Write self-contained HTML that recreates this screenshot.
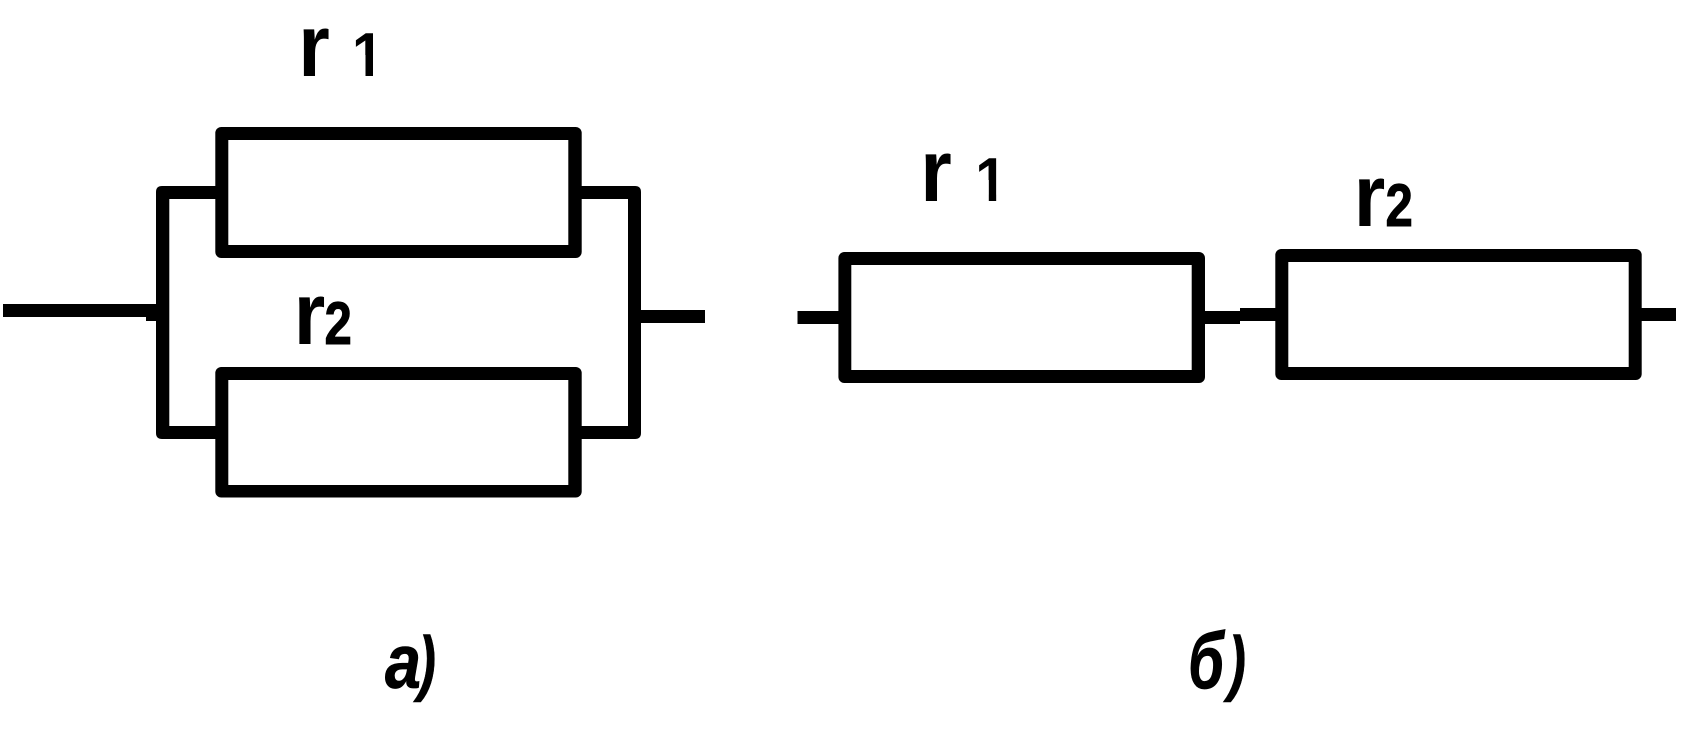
<!DOCTYPE html>
<html><head><meta charset="utf-8"><style>html,body{margin:0;padding:0;background:#fff}svg{display:block}text{font-family:"Liberation Sans",sans-serif;font-weight:bold;fill:#000}</style></head><body>
<svg width="1696" height="733" viewBox="0 0 1696 733" xmlns="http://www.w3.org/2000/svg">
<defs><clipPath id="one"><path d="M340 20H373V80H365.5V55H340Z"/></clipPath></defs>
<rect width="1696" height="733" fill="#fff"/>
<!-- a) resistors -->
<rect x="215.3" y="127" width="366.4" height="131" rx="6" fill="#000"/><rect x="228.3" y="140" width="340" height="105" fill="#fff"/>
<rect x="215.3" y="367" width="366.4" height="130.5" rx="6" fill="#000"/><rect x="228.3" y="380" width="340" height="105" fill="#fff"/>
<!-- a) wires -->
<path d="M217 186H162Q156 186 156 192V433Q156 439 162 439H217V426H169.3V199H217Z" fill="#000"/>
<path d="M580 186H635Q641 186 641 192V433Q641 439 635 439H580V426H628V199H580Z" fill="#000"/>
<path d="M3 304H157V321H146V317H3Z" fill="#000"/>
<rect x="640" y="310" width="65" height="13" fill="#000"/>
<!-- b) resistors -->
<rect x="838.4" y="252" width="366.6" height="131" rx="6" fill="#000"/><rect x="851.3" y="265" width="340.4" height="105" fill="#fff"/>
<rect x="1275.3" y="249" width="366.4" height="131" rx="6" fill="#000"/><rect x="1288.3" y="262" width="340.4" height="105" fill="#fff"/>
<!-- b) wires -->
<rect x="797.5" y="311" width="41.5" height="13" fill="#000"/>
<rect x="1204" y="311" width="36" height="13" fill="#000"/>
<rect x="1240" y="308" width="36" height="13" fill="#000"/>
<rect x="1641" y="308" width="35" height="13" fill="#000"/>
<!-- labels -->
<g font-size="88">
<text transform="translate(298.3,76) scale(.92,1)">r</text>
<text transform="translate(293.7,344) scale(.92,1)">r</text>
<text transform="translate(920.3,201) scale(.92,1)">r</text>
<text transform="translate(1353.7,226) scale(.92,1)">r</text>
</g>
<g clip-path="url(#one)"><text font-size="62" transform="translate(352,76) scale(.92,1)">1</text></g>
<g transform="translate(623.3,125)"><g clip-path="url(#one)"><text font-size="62" transform="translate(352,76) scale(.92,1)">1</text></g></g>
<g font-size="60" stroke="#000" stroke-width="1">
<text transform="translate(324.5,344) scale(.82,1)">2</text>
<text transform="translate(1385.5,226) scale(.82,1)">2</text>
</g>
<g font-style="italic">
<text font-size="76" stroke="#000" stroke-width=".8" transform="translate(385,688) scale(.85,1)">a</text>
<text font-size="72" stroke="#000" stroke-width=".6" transform="translate(418,687) scale(.75,1)">)</text>
<text font-size="80" stroke="#000" stroke-width=".8" transform="translate(1188.3,688) scale(.72,1)">б</text>
<text font-size="72" stroke="#000" stroke-width=".6" transform="translate(1228,687) scale(.75,1)">)</text>
</g>
</svg>
</body></html>
